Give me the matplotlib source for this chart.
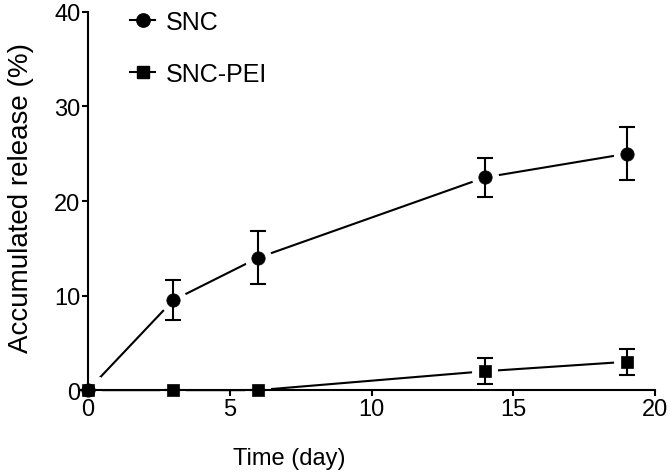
import matplotlib
matplotlib.use('Agg')

import matplotlib.pyplot as plt
import numpy as np

plt.rcParams['font.family'] = ['Liberation Sans', 'DejaVu Sans']

days = [0, 3, 6, 14, 19]
snc = [0, 9.5, 14.0, 22.5, 25.0]
snc_err = [0, 2.1, 2.8, 2.1, 2.8]
pei = [0, 0, 0, 2.0, 3.0]
pei_err = [0, 0, 0, 1.4, 1.4]

fig = plt.figure(figsize=(6.72, 4.77), dpi=100)
ax = fig.add_axes([0.131, 0.180, 0.844, 0.793])
ax.set_axisbelow(False)  # keep spines/ticks above the white marker rings

series = [(snc, snc_err, 'o', 9.6, 'SNC', 0),
          (pei, pei_err, 's', 8.8, 'SNC-PEI', 0.5)]
for vals, errs, mk, ms, name, dz in series:
    # line under the markers, white ring around markers gives the gap
    ax.plot(days, vals, color='black', lw=1.5, zorder=1)
    ax.plot(days, vals, linestyle='none', marker=mk, ms=ms, color='white',
            markeredgecolor='white', markeredgewidth=10, zorder=2)
    ax.plot(days, vals, linestyle='none', marker=mk, ms=ms, color='black',
            markeredgecolor='black', markeredgewidth=0.5, zorder=3 + dz)
    ax.errorbar(days, vals, yerr=errs, fmt='none', ecolor='black',
                elinewidth=1.5, capsize=5.5, capthick=1.5, zorder=4)
    ax.plot([], [], color='black', lw=1.5, marker=mk, ms=ms, label=name)

ax.set_xlim(0, 20)
ax.set_ylim(0, 40)
ax.set_xticks([0, 5, 10, 15, 20])
ax.set_yticks([0, 10, 20, 30, 40])
ax.set_xlabel('Time (day)', fontsize=17)
ax.set_ylabel('Accumulated release (%)', fontsize=20)
ax.xaxis.set_label_coords(0.354, -0.15)
ax.yaxis.set_label_coords(-0.095, 0.51)
ax.tick_params(labelsize=17, width=1.5, length=4.5, pad=1)
for side in ['top', 'right']:
    ax.spines[side].set_visible(False)
for side in ['left', 'bottom']:
    ax.spines[side].set_linewidth(1.5)
for art in ax.lines + ax.collections:
    art.set_clip_on(False)

ax.legend(loc='upper left', bbox_to_anchor=(0.074, 1.006), frameon=False,
          fontsize=18, handlelength=1.0, handletextpad=0.45, labelspacing=1.12,
          borderpad=0, borderaxespad=0)

plt.savefig('out.png', dpi=100)
plt.close()
